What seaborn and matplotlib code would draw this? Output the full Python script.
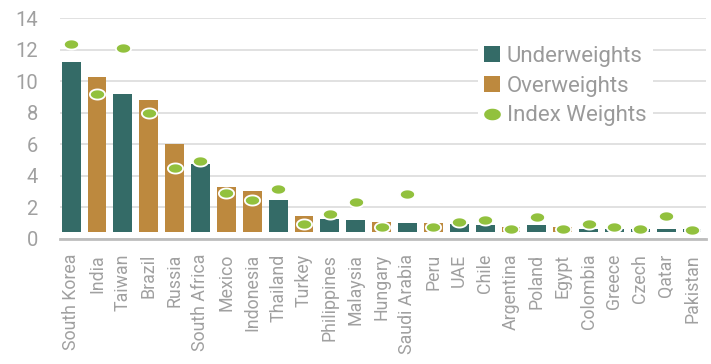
import numpy as np
import pandas as pd
import matplotlib
matplotlib.use("Agg")
import matplotlib.pyplot as plt
import seaborn as sns
from matplotlib.path import Path
from matplotlib.patches import Patch
from matplotlib.lines import Line2D

countries = ["South Korea", "India", "Taiwan", "Brazil", "Russia", "South Africa",
             "Mexico", "Indonesia", "Thailand", "Turkey", "Philippines", "Malaysia",
             "Hungary", "Saudi Arabia", "Peru", "UAE", "Chile", "Argentina", "Poland",
             "Egypt", "Colombia", "Greece", "Czech", "Qatar", "Pakistan"]
portfolio_weights = [11.2, 10.25, 9.2, 8.8, 6.0, 4.75, 3.25, 3.0, 2.45, 1.45, 1.25, 1.2,
                     1.05, 1.0, 1.0, 0.95, 0.85, 0.75, 0.85, 0.75, 0.62, 0.62, 0.6, 0.6, 0.6]
index_weights = [12.35, 9.15, 12.1, 7.95, 4.45, 4.9, 2.9, 2.45, 3.15, 0.9, 1.55, 2.3,
                 0.75, 2.8, 0.75, 1.05, 1.2, 0.6, 1.35, 0.6, 0.9, 0.75, 0.58, 1.43, 0.55]
positions = ["Underweights", "Overweights", "Underweights", "Overweights", "Overweights",
             "Underweights", "Overweights", "Overweights", "Underweights", "Overweights",
             "Underweights", "Underweights", "Overweights", "Underweights", "Overweights",
             "Underweights", "Underweights", "Overweights", "Underweights", "Overweights",
             "Underweights", "Underweights", "Underweights", "Underweights", "Underweights"]
BASE = 0.43

TEAL = "#346b67"
GOLD = "#bd893e"
GREEN = "#92c13e"
TXT = "#a0a0a0"

sns.set_theme(style="white")
plt.rcParams['font.family'] = ['Roboto', 'DejaVu Sans']

df = pd.DataFrame({"country": countries, "weight": portfolio_weights,
                   "index": index_weights, "position": positions})
df["span"] = df["weight"] - BASE

fig = plt.figure(figsize=(7.11, 3.64), dpi=100)
ax = fig.add_axes([0.0844, 0.3445, 0.9086, 0.606])

sns.barplot(data=df, x="country", y="span", hue="position",
            hue_order=["Underweights", "Overweights"],
            palette={"Underweights": TEAL, "Overweights": GOLD},
            dodge=False, width=0.73, bottom=BASE, saturation=1,
            legend=False, ax=ax, zorder=2, linewidth=0)

t = np.linspace(0, 2 * np.pi, 64)
ellipse = Path(np.column_stack([1.5 * np.cos(t), np.sin(t)]))

sns.scatterplot(data=df, x="country", y="index", marker=ellipse, s=120,
                color=GREEN, edgecolor="white", linewidth=1.3, zorder=3, ax=ax,
                legend=False)

ax.set_ylim(0, 14)
ax.set_xlim(-0.43, 24.54)
ax.set_yticks(range(0, 15, 2))
ax.yaxis.grid(True, color="#dedede", linewidth=1.3, zorder=0)
ax.set_axisbelow(True)
ax.set_xlabel("")
ax.set_ylabel("")
for s in ["left", "top", "right"]:
    ax.spines[s].set_visible(False)
ax.spines["bottom"].set_color("#bdbdbd")
ax.spines["bottom"].set_linewidth(2)
ax.tick_params(axis="y", length=0, pad=16, labelsize=14.5, labelcolor=TXT)
ax.tick_params(axis="x", length=0, pad=11, labelsize=12.8, labelcolor=TXT, rotation=90)

handles = [Patch(facecolor=TEAL, edgecolor="none"),
           Patch(facecolor=GOLD, edgecolor="none"),
           Line2D([], [], linestyle="none", marker=ellipse, markersize=11,
                  markerfacecolor=GREEN, markeredgecolor=GREEN)]
leg = ax.legend(handles, ["Underweights", "Overweights", "Index Weights"],
                loc="upper right", bbox_to_anchor=(0.935, 0.955), fontsize=16,
                frameon=True, facecolor="white", edgecolor="none", framealpha=1,
                handlelength=0.7, handleheight=0.7, handletextpad=0.3,
                labelspacing=0.4, borderpad=0.3)
for txt in leg.get_texts():
    txt.set_color("#9a9a9a")

fig.savefig("out.png", dpi=100)
